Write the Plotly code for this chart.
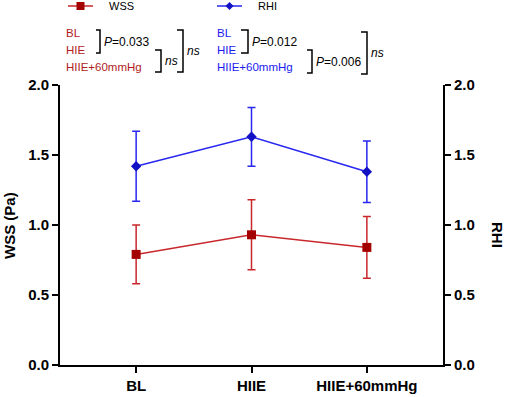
import plotly.graph_objects as go

categories = ["BL", "HIIE", "HIIE+60mmHg"]
wss_mean = [0.79, 0.93, 0.84]
wss_err = [0.21, 0.25, 0.22]
rhi_mean = [1.42, 1.63, 1.38]
rhi_err = [0.25, 0.21, 0.22]
y_ticks = [0.0, 0.5, 1.0, 1.5, 2.0]
y_ticklabels = ["0.0", "0.5", "1.0", "1.5", "2.0"]
group_labels = ["BL", "HIE", "HIIE+60mmHg"]
wss_stats = ["<i>P</i>=0.033", "<i>ns</i>", "<i>ns</i>"]
rhi_stats = ["<i>P</i>=0.012", "<i>P</i>=0.006", "<i>ns</i>"]
series_names = ["WSS", "RHI"]

W, H = 505, 397
L, R, T, B = 60, 62, 85, 32
PW, PH = W - L - R, H - T - B

def px(x):
    return (x - L) / PW

def py(y):
    return (H - B - y) / PH

RED_LINE = "#c8282c"
RED_MARK = "#a40000"
BLUE_LINE = "#2727f0"
BLUE_MARK = "#1212c4"
FONT = "Arial, Liberation Sans, sans-serif"

x_idx = list(range(len(categories)))

fig = go.Figure()
fig.add_trace(go.Scatter(
    x=x_idx, y=wss_mean, name=series_names[0], mode="lines+markers",
    line=dict(color=RED_LINE, width=1.5),
    marker=dict(symbol="square", size=9, color=RED_MARK),
    error_y=dict(type="data", array=wss_err, visible=True, color=RED_LINE, thickness=1.5, width=4),
))
fig.add_trace(go.Scatter(
    x=x_idx, y=rhi_mean, name=series_names[1], mode="lines+markers", yaxis="y2",
    line=dict(color=BLUE_LINE, width=1.5),
    marker=dict(symbol="diamond", size=8, color=BLUE_MARK),
    error_y=dict(type="data", array=rhi_err, visible=True, color=BLUE_LINE, thickness=1.5, width=4),
))

axis_common = dict(
    range=[0, 2], tickvals=y_ticks, ticktext=y_ticklabels, automargin=False,
    showgrid=False, zeroline=False, showline=True, linecolor="black", linewidth=2,
    ticks="outside", ticklen=6, tickwidth=2, tickcolor="black",
    tickfont=dict(family=FONT, size=15, color="black", weight="bold"),
)

fig.update_layout(
    width=W, height=H, margin=dict(l=L, r=R, t=T, b=B, autoexpand=False),
    plot_bgcolor="white", paper_bgcolor="white",
    font=dict(family=FONT, color="black"),
    xaxis=dict(
        range=[-0.66, 2.66], tickvals=x_idx, ticktext=categories, automargin=False,
        showgrid=False, zeroline=False, showline=True, linecolor="black", linewidth=2,
        ticks="outside", ticklen=6, tickwidth=2, tickcolor="black",
        tickfont=dict(family=FONT, size=15, color="black", weight="bold"),
    ),
    yaxis=dict(**axis_common),
    yaxis2=dict(**axis_common, overlaying="y", side="right"),
    showlegend=False,
)

annotations = []
shapes = []

def legend_item(x0, name, color_line, color_mark, symbol):
    yc = 6
    shapes.append(dict(type="line", x0=px(x0), x1=px(x0 + 25), y0=py(yc), y1=py(yc),
                       xref="paper", yref="paper", line=dict(color=color_line, width=1.5)))
    cx = x0 + 12.5
    if symbol == "square":
        shapes.append(dict(type="rect", x0=px(cx - 4), x1=px(cx + 4), y0=py(yc - 4), y1=py(yc + 4),
                           xref="paper", yref="paper", fillcolor=color_mark, line=dict(width=0)))
    else:
        path = (f"M {px(cx - 4)} {py(yc)} L {px(cx)} {py(yc - 4)} L {px(cx + 4)} {py(yc)} "
                f"L {px(cx)} {py(yc + 4)} Z")
        shapes.append(dict(type="path", path=path, xref="paper", yref="paper",
                           fillcolor=color_mark, line=dict(width=0)))
    annotations.append(dict(text=name, x=px(x0 + 39), y=py(yc), xref="paper", yref="paper",
                            xanchor="left", yanchor="middle", showarrow=False,
                            font=dict(family=FONT, size=11, color="black")))

legend_item(68, series_names[0], RED_LINE, RED_MARK, "square")
legend_item(217, series_names[1], BLUE_LINE, BLUE_MARK, "diamond")

annotations.append(dict(text="<b>WSS (Pa)</b>", x=px(9), y=py(226), xref="paper", yref="paper",
                        xanchor="center", yanchor="middle",
                        textangle=-90, showarrow=False, font=dict(family=FONT, size=15, color="black")))
annotations.append(dict(text="<b>RHI</b>", x=px(498), y=py(235), xref="paper", yref="paper",
                        xanchor="center", yanchor="middle",
                        textangle=90, showarrow=False, font=dict(family=FONT, size=15, color="black")))

label_y = [33, 50, 67]

def add_group(x0, color, stats, b1, b2, b3):
    for lab, yy in zip(group_labels, label_y):
        annotations.append(dict(text=lab, x=px(x0), y=py(yy), xref="paper", yref="paper",
                                xanchor="left", yanchor="middle", showarrow=False,
                                font=dict(family=FONT, size=11.5, color=color)))
    for (bx0, bx1, by0, by1), st in zip([b1, b2, b3], stats):
        path = f"M {px(bx0)} {py(by0)} L {px(bx1)} {py(by0)} L {px(bx1)} {py(by1)} L {px(bx0)} {py(by1)}"
        shapes.append(dict(type="path", path=path, xref="paper", yref="paper",
                           line=dict(color="black", width=1.5)))
        annotations.append(dict(text=st, x=px(bx1 + 2), y=py((by0 + by1) / 2), xref="paper", yref="paper",
                                xanchor="left", yanchor="middle", showarrow=False,
                                font=dict(family=FONT, size=12, color="black")))

add_group(64, "#b01c1c", wss_stats, (96, 100, 30, 53), (155, 161, 50, 72), (177, 183, 30, 72))
add_group(215, "#1a1af0", rhi_stats, (241, 248, 30, 53), (307, 312, 50, 73), (361, 367, 32, 74))

fig.update_layout(annotations=annotations, shapes=shapes)
fig.write_html("out.html", config={"displayModeBar": False},
               post_script="document.body.style.margin='0';")
